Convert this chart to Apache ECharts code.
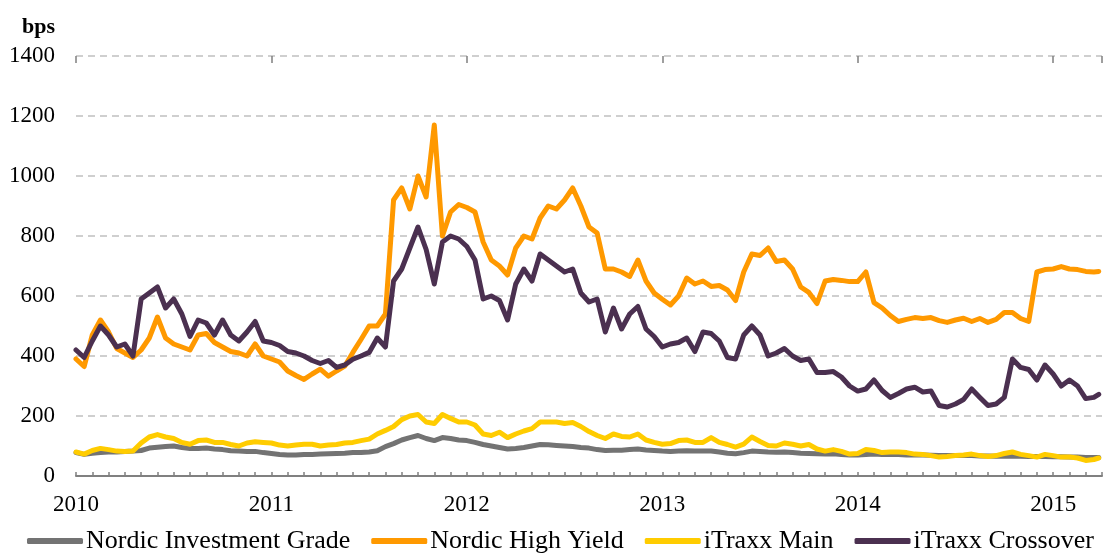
<!DOCTYPE html>
<html>
<head>
<meta charset="utf-8">
<script src="https://cdn.jsdelivr.net/npm/echarts@6/dist/echarts.min.js"></script>
<style>
  html,body{margin:0;padding:0;background:#fff;}
  #chart{width:1114px;height:556px;}
</style>
</head>
<body>
<div id="chart"></div>
<script>
// twice a month, Jan 2010 - Mar 2015 (x in months since Jan 2010)
var months = [];
for (var i = 0; i < 126; i++) { months.push(i / 2); }
months.push(62.8);

var seriesNames = ['Nordic Investment Grade', 'Nordic High Yield', 'iTraxx Main', 'iTraxx Crossover'];
var colors = ['#737373', '#FF9900', '#FFCC00', '#4B3050'];
var yearTicks = [2010, 2011, 2012, 2013, 2014, 2015];

var nordicIG = [78,72,76,78,80,80,82,83,85,93,96,98,100,95,92,92,93,90,88,84,83,82,82,78,
  75,72,70,70,72,72,73,74,75,76,78,78,80,84,98,108,120,128,135,125,118,128,125,120,
  118,112,105,100,95,90,92,95,100,105,104,102,100,98,95,93,88,85,86,86,88,90,87,85,
  83,82,83,84,83,83,83,80,76,74,78,83,82,80,79,80,78,76,75,74,73,74,72,70,
  70,72,73,72,72,72,70,70,70,69,68,68,68,68,68,67,67,66,66,67,66,65,65,65,
  64,64,63,63,62,62,62];
var nordicHY = [390,365,470,520,480,425,410,395,420,460,530,460,440,430,420,470,475,445,430,415,410,400,440,400,
  390,380,350,335,322,340,356,333,350,366,412,455,500,500,540,920,960,890,1000,930,1170,800,880,905,
  895,880,780,720,700,670,760,800,790,860,900,890,920,960,900,830,810,690,690,680,665,720,650,610,
  589,570,600,660,640,650,632,635,620,585,680,740,735,760,715,720,690,630,612,575,650,655,652,648,
  648,680,578,560,535,515,522,528,525,528,518,512,520,526,515,525,512,522,545,545,525,515,680,688,
  690,698,690,688,682,680,682];
var itraxxMain = [80,73,85,92,88,83,82,83,110,130,138,130,125,112,106,118,120,112,112,105,100,110,114,112,
  110,103,100,103,106,106,100,103,105,110,112,118,123,140,152,165,188,200,205,180,175,205,192,180,
  180,170,140,135,146,128,140,150,158,180,180,180,175,178,165,148,135,125,140,132,130,140,120,112,
  106,108,118,120,112,112,128,112,105,96,106,130,115,102,100,110,106,100,105,90,83,88,82,73,
  75,88,85,78,80,80,78,73,72,68,63,65,68,70,73,68,65,68,75,80,72,68,63,72,
  68,63,63,60,52,55,60];
var itraxxXover = [420,395,450,500,470,430,440,400,590,610,630,560,590,540,465,520,510,470,520,470,450,480,515,450,
  445,435,415,410,400,385,375,385,362,370,389,400,412,460,430,650,690,760,830,755,640,780,800,790,
  765,720,590,600,585,520,640,690,650,740,720,700,680,690,610,580,590,480,560,490,540,565,490,465,
  430,440,445,460,415,480,475,450,395,390,470,500,470,400,410,425,400,385,390,345,345,348,330,300,
  283,290,320,285,262,275,290,296,280,283,235,230,240,255,290,262,235,240,262,390,362,355,320,370,
  340,300,320,300,258,262,272];

var fontFamily = '"Liberation Serif", "Times New Roman", serif';

var chart = echarts.init(document.getElementById('chart'));

function pairs(vals) {
  return months.map(function (m, k) { return [m, vals[k]]; });
}

var allValues = [nordicIG, nordicHY, itraxxMain, itraxxXover];
var series = [];
for (var s = 0; s < seriesNames.length; s++) {
  series.push({
    name: seriesNames[s],
    type: 'line',
    xAxisIndex: 0,
    showSymbol: false,
    symbol: 'none',
    data: pairs(allValues[s]),
    lineStyle: { color: colors[s], width: 5, join: 'round', cap: 'round' },
    itemStyle: { color: colors[s] }
  });
}

var option = {
  animation: false,
  backgroundColor: '#fff',
  textStyle: { fontFamily: fontFamily },
  grid: { left: 76, right: 12, top: 56, bottom: 80 },
  legend: {
    left: 27,
    top: 528,
    padding: 0,
    icon: 'roundRect',
    itemWidth: 56,
    itemHeight: 6,
    itemGap: 21,
    data: seriesNames,
    textStyle: { fontFamily: fontFamily, fontSize: 26, color: '#000', padding: [0, 0, 0, -2] }
  },
  xAxis: [{
    type: 'value',
    min: 0,
    max: 63,
    interval: 1,
    axisLine: { onZero: false, lineStyle: { color: '#808080', width: 2 } },
    axisTick: { inside: true, length: 4, lineStyle: { color: '#808080', width: 1.5 } },
    axisLabel: {
      margin: 17,
      fontSize: 23,
      color: '#000',
      verticalAlign: 'top',
      fontFamily: fontFamily,
      formatter: function (v) {
        return v % 12 === 0 ? String(yearTicks[v / 12]) : '';
      }
    },
    splitLine: { show: false }
  }, {
    // taller ticks at each year
    type: 'value',
    min: 0,
    max: 63,
    interval: 12,
    axisLine: { show: false, onZero: false },
    axisTick: { inside: true, length: 7, lineStyle: { color: '#808080', width: 1.5 } },
    axisLabel: { show: false },
    splitLine: { show: false }
  }],
  yAxis: {
    type: 'value',
    min: 0,
    max: 1400,
    interval: 200,
    name: 'bps',
    nameLocation: 'end',
    nameGap: 29,
    nameTextStyle: {
      fontFamily: fontFamily,
      fontWeight: 'bold',
      fontSize: 22,
      color: '#000',
      align: 'right',
      verticalAlign: 'middle',
      padding: [0, 21, 0, 0]
    },
    axisLine: { show: false },
    axisTick: { show: false },
    axisLabel: {
      margin: 21, fontSize: 23, color: '#000', fontFamily: fontFamily,
      formatter: function (v) { return String(v); }
    },
    splitLine: { lineStyle: { type: [7, 5], color: '#c0c0c0', width: 1.5 } }
  },
  series: series
};
chart.setOption(option);
</script>
</body>
</html>
